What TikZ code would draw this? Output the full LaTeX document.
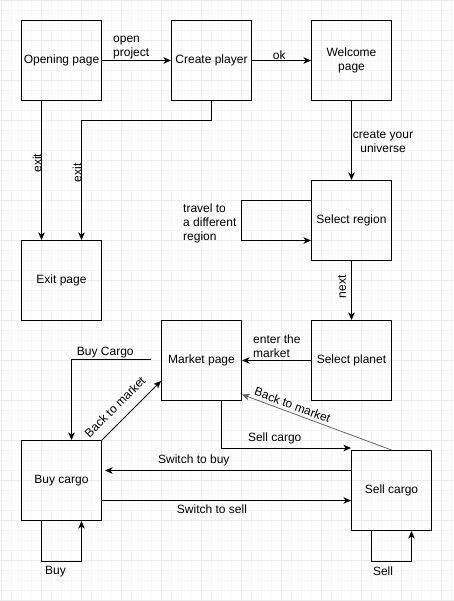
\documentclass[tikz,border=0pt]{standalone}
\usepackage{fontspec}
\setmainfont{Liberation Sans}
\usetikzlibrary{arrows.meta,calc}
\definecolor{gridminor}{RGB}{246,246,246}
\definecolor{gridmajor}{RGB}{236,236,236}
\definecolor{backline}{RGB}{100,100,100}

\begin{document}
\begin{tikzpicture}[x=1pt,y=-1pt,
    every node/.style={font=\fontsize{12}{14}\selectfont},
    page/.style={draw,line width=1pt,minimum size=80pt,inner sep=2pt,align=center},
    flow/.style={line width=1pt,-{Stealth[length=7.5pt,width=6.5pt,inset=2pt]}},
    backflow/.style={flow,draw=backline,line width=0.8pt},
    lbl/.style={inner sep=0pt,align=left}]
	%% background grid
	\useasboundingbox (-1.5,-0.5) rectangle (452.5,600.5);
	\foreach \gx in {0,10,...,450} \draw[gridminor,line width=0.8pt] (\gx,-0.5) -- (\gx,600.5);
	\foreach \gy in {0,10,...,600} \draw[gridminor,line width=0.8pt] (-1.5,\gy) -- (452.5,\gy);
	\foreach \gx in {0,40,...,440} \draw[gridmajor,line width=0.8pt] (\gx,-0.5) -- (\gx,600.5);
	\foreach \gy in {0,40,...,600} \draw[gridmajor,line width=0.8pt] (-1.5,\gy) -- (452.5,\gy);

	%% pages
	\node[page] (open) at (60,60) {Opening page};
	\node[page] (create) at (210,60) {Create player};
	\node[page] (welcome) at (350,60) {Welcome\\page};
	\node[page] (region) at (350,220) {Select region};
	\node[page] (exitp) at (60,280) {Exit page};
	\node[page] (planet) at (350,360) {Select planet};
	\node[page] (market) at (200,360) {Market page};
	\node[page] (buy) at (60,480) {Buy cargo};
	\node[page] (sell) at (390,490) {Sell cargo};

	%% top row
	\draw[flow] (open.east) -- (create.west);
	\draw[flow] (create.east) -- (welcome.west);
	\draw[flow] (welcome.south) -- (region.north);
	\node[lbl,anchor=west] (lopen) at (111.5,47.5) {open\\project};
	\node[lbl] (lok) at (277.8,54.5) {ok};
	\node[lbl,align=center] (luniverse) at (381.5,141.5) {create your\\universe};

	% exits
	\draw[flow] ([xshift=-20pt]open.south) -- ([xshift=-20pt]exitp.north);
	\draw[flow] (create.south) -- ++(0,20) -| ([xshift=20pt]exitp.north);
	\node[lbl,rotate=90] (lexitone) at (35.5,162.5) {exit};
	\node[lbl,rotate=90] (lexittwo) at (75.5,172.5) {exit};

	% regions and planets
	\draw[flow] ([yshift=20pt]region.west) -- ++(-70,0) -- ++(0,40) -- ([yshift=-20pt]region.west);
	\node[lbl,anchor=west] (ltravel) at (181.5,222.8) {travel to\\a different\\region};
	\draw[flow] (region.south) -- (planet.north);
	\node[lbl,rotate=90] (lnext) at (340.5,286.2) {next};
	\draw[flow] (planet.west) -- (market.east);
	\node[lbl,anchor=west] (lenter) at (251.5,345.5) {enter the\\market};

	%% market
	\draw[flow] ([xshift=-10pt,yshift=1pt]market.west) -| ([xshift=10pt]buy.north);
	\node[lbl] (lbuycargo) at (103.8,352.5) {Buy Cargo};
	\draw[flow] (buy.north east) -- ([yshift=20pt]market.south west);
	\node[lbl,rotate=45] (lbackone) at (113.5,406.5) {Back to market};
	\draw[flow] ([xshift=20pt]market.south) |- ([yshift=2pt]sell.north west);
	\node[lbl] (lsellcargo) at (273.2,437.5) {Sell cargo};
	\draw[backflow] (sell.north) -- ([yshift=-34pt]market.east);
	\node[lbl,rotate=-20.6] (lbacktwo) at (291,404.5) {Back to market};

	% switching
	\draw[flow] ([yshift=20pt]sell.west) -- ([xshift=3pt,yshift=10pt]buy.east);
	\node[lbl] (lswbuy) at (192.3,459.5) {Switch to buy};
	\draw[flow] ([yshift=-20pt]buy.east) -- ([yshift=-10pt]sell.west);
	\node[lbl] (lswsell) at (210.5,509.2) {Switch to sell};

	% loops
	\draw[flow] ([xshift=-20pt]buy.south) -- ++(0,40) -| ([xshift=20pt]buy.south);
	\node[lbl] (lbuy) at (54,571.2) {Buy};
	\draw[flow] ([xshift=-20pt]sell.south) -- ++(0,30) -| ([xshift=20pt]sell.south);
	\node[lbl] (lsell) at (381.5,571.2) {Sell};
\end{tikzpicture}
\end{document}
